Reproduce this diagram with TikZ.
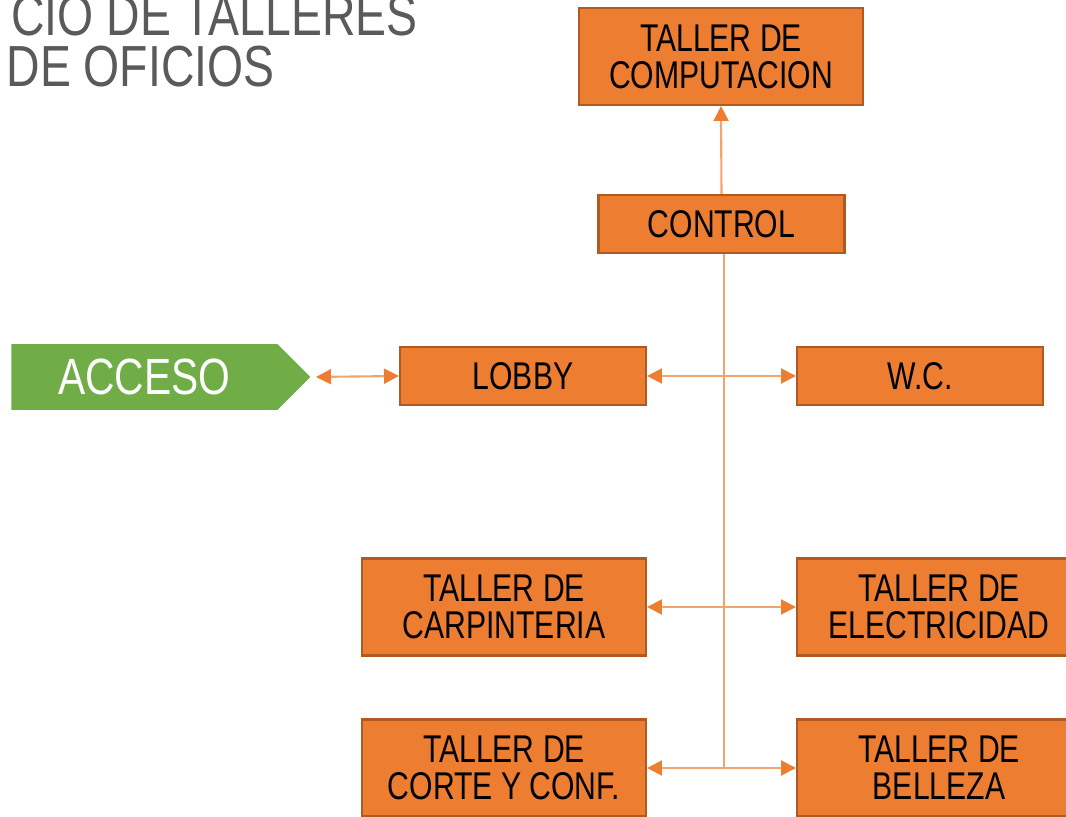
\documentclass[tikz,border=0pt]{standalone}
\usepackage{fontspec}
\usepackage{xcolor}
\usepackage{tikz}
\usetikzlibrary{arrows.meta,positioning,shapes.symbols,calc}
\newfontfamily\boxfont[FakeStretch=0.78]{Liberation Sans}
\newfontfamily\titlefont[FakeStretch=0.8]{Liberation Sans}
\definecolor{roomfill}{HTML}{ED7D31}
\definecolor{roomdraw}{HTML}{AE5A21}
\definecolor{linkorange}{HTML}{F2A46F}
\definecolor{accesogreen}{HTML}{70AD47}
\definecolor{titlegray}{HTML}{5A5A5A}
\tikzset{
  roombox/.style={rectangle, draw=roomdraw, line width=1.2pt, fill=roomfill,
                  align=center, inner sep=0pt,
                  font=\boxfont\fontsize{22}{21}\selectfont},
  bigroom/.style={roombox, minimum width=5.68cm, minimum height=1.94cm},
  smallroom/.style={roombox, minimum width=4.92cm, minimum height=1.16cm},
  titletext/.style={anchor=base east, inner sep=0pt, text=titlegray, text depth=0pt,
                    font=\titlefont\fontsize{33}{33}\selectfont},
  link/.style={draw=linkorange, line width=1.2pt},
  arr/.style={link, -{Triangle[length=8.5pt, width=8.5pt, color=roomfill]}},
  dblarr/.style={link, {Triangle[length=8.5pt, width=8.5pt, color=roomfill]}-{Triangle[length=8.5pt, width=8.5pt, color=roomfill]}},
}
\begin{document}
\begin{tikzpicture}[x=0.02cm, y=-0.02cm]
  \useasboundingbox (0,0) rectangle (1066,817);
  % title
  \node[titletext] (title1) at (418,36) {CIO DE TALLERES};
  \node[titletext] (title2) at (275,87) {DE OFICIOS};
  % entrance
  \node[signal, signal to=east, signal pointer angle=90, fill=accesogreen,
        minimum width=5.98cm, minimum height=1.32cm, inner sep=0pt, text=white,
        anchor=west, font=\titlefont\fontsize{29}{29}\selectfont] (acceso) at (11,377) {ACCESO};
  % rooms
  \node[bigroom]   (comp)    at (721,56.5) {TALLER DE\\COMPUTACION};
  \node[smallroom] (control) at (721.5,224) {CONTROL};
  \node[smallroom] (lobby)   at (523,376)  {LOBBY};
  \node[smallroom] (wc)      at (920,376)  {W.C.};
  \node[bigroom]   (carp)    at (504,607)  {TALLER DE\\CARPINTERIA};
  \node[bigroom]   (elec)    at (939,607)  {TALLER DE\\ELECTRICIDAD};
  \node[bigroom]   (corte)   at (504,768)  {TALLER DE\\CORTE Y CONF.};
  \node[bigroom]   (belleza) at (939,768)  {TALLER DE\\BELLEZA};
  % junctions on the spine
  \coordinate (jtop)   at ($(control.south)+(2.5,0)$);
  \coordinate (jlobby) at (jtop |- lobby.east);
  \coordinate (jcarp)  at (jtop |- carp.east);
  \coordinate (jcorte) at (jtop |- corte.east);
  % connectors
  \draw[arr] (control.north) -- (comp.south);
  \draw[link] (jtop) -- (jcorte);
  \draw[dblarr, shorten <=3pt] (acceso.east) -- (lobby.west);
  \draw[arr] (jlobby) -- (lobby.east);
  \draw[arr] (jlobby) -- (wc.west);
  \draw[arr] (jcarp) -- (carp.east);
  \draw[arr] (jcarp) -- (elec.west);
  \draw[arr] (jcorte) -- (corte.east);
  \draw[arr] (jcorte) -- (belleza.west);
\end{tikzpicture}
\end{document}
